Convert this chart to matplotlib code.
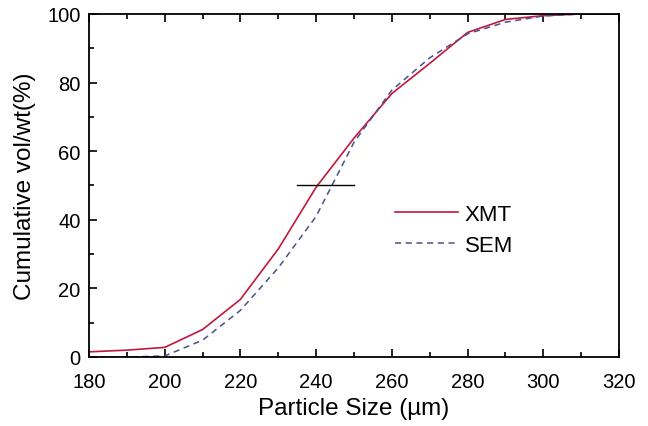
import matplotlib
matplotlib.use("Agg")
import matplotlib.pyplot as plt
from matplotlib.ticker import MultipleLocator

plt.rcParams['font.family'] = ['Liberation Sans', 'DejaVu Sans']

# particle size (um) and cumulative distributions
size = [180, 190, 200, 210, 220, 230, 240, 250, 260, 270, 280, 290, 300, 310, 320]
xmt = [1.5, 2.0, 2.8, 8.0, 16.8, 31.5, 49.5, 63.8, 76.8, 85.6, 94.6, 98.4, 99.5, 100, 100]
sem = [0.0, 0.0, 0.3, 4.9, 13.6, 26.0, 41.0, 62.6, 77.8, 87.2, 94.2, 97.6, 99.4, 100, 100]

# median marker
median_x = [235, 250]
median_y = [50, 50]

fig = plt.figure(figsize=(6.48, 4.27), dpi=100)
ax = fig.add_axes([0.1373, 0.1616, 0.818, 0.8034])

ax.plot(size, xmt, color='#c3173e', lw=1.2, label='XMT')
ax.plot(size, sem, color='#4b4f8c', lw=1.1, ls=(0, (4, 3)), label='SEM')
ax.plot(median_x, median_y, color='black', lw=1.0)

ax.set_xlim(180, 320)
ax.set_ylim(0, 100)
ax.xaxis.set_major_locator(MultipleLocator(20))
ax.xaxis.set_minor_locator(MultipleLocator(10))
ax.yaxis.set_major_locator(MultipleLocator(20))
ax.yaxis.set_minor_locator(MultipleLocator(10))
ax.tick_params(which='both', direction='in', top=True, right=False, width=1.2)
ax.tick_params(which='major', length=6, labelsize=14.5)
ax.tick_params(which='minor', length=3.5)
ax.tick_params(axis='x', which='major', pad=11)
ax.tick_params(axis='y', which='major', pad=6)
for s in ax.spines.values():
    s.set_linewidth(1.3)

ax.set_xlabel('Particle Size (\u00b5m)', fontsize=17.5, labelpad=4)
ax.set_ylabel('Cumulative vol/wt(%)', fontsize=17.5, labelpad=8)

ax.legend(loc='center left', bbox_to_anchor=(0.56, 0.37), frameon=False, fontsize=16,
          handlelength=2.85, handletextpad=0.3, labelspacing=0.45, borderaxespad=0)

fig.savefig('out.png', dpi=100)
